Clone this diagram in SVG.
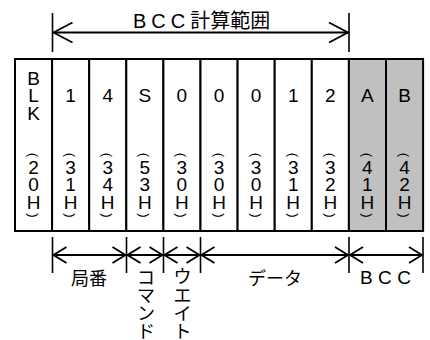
<svg xmlns="http://www.w3.org/2000/svg" width="430" height="340" viewBox="0 0 430 340">
<style>
text{font-family:"Liberation Sans","Noto Sans CJK JP",sans-serif;fill:#000}
.c{font-size:19px;text-anchor:middle}
.p{font-size:13px;text-anchor:middle;dominant-baseline:central}
.lb{font-size:18px;text-anchor:middle}
.cell{stroke:#000;stroke-width:2;fill:#fff}
.g .cell{fill:#c0c0c0}
.ln{stroke:#000;stroke-width:1.8;fill:none}
.tk{stroke:#000;stroke-width:1.6}
</style>
<defs>
<marker id="big" markerUnits="userSpaceOnUse" viewBox="-21 -12 23 24" markerWidth="23" markerHeight="24" refX="0" refY="0" orient="auto-start-reverse">
<path d="M-19,-10 L0,0 L-19,10" fill="none" stroke="#000" stroke-width="1.8"/>
</marker>
<marker id="sm" markerUnits="userSpaceOnUse" viewBox="-16 -10 18 20" markerWidth="18" markerHeight="20" refX="0" refY="0" orient="auto-start-reverse">
<path d="M-13,-8 L0,0 L-13,8" fill="none" stroke="#000" stroke-width="1.8"/>
</marker>
</defs>

<g id="title">
<text x="133" y="27.5" font-size="20"><tspan letter-spacing="5">BCC</tspan><tspan>計算範囲</tspan></text>
</g>

<g id="connectors">
<line class="tk" x1="52.5" y1="13" x2="52.5" y2="52"/>
<line class="tk" x1="349" y1="13" x2="349" y2="52"/>
<line class="ln" x1="53.5" y1="32.5" x2="348" y2="32.5" marker-start="url(#big)" marker-end="url(#big)"/>
<line class="tk" x1="52.5" y1="237" x2="52.5" y2="273"/>
<line class="tk" x1="126.5" y1="237" x2="126.5" y2="273"/>
<line class="tk" x1="163.5" y1="237" x2="163.5" y2="273"/>
<line class="tk" x1="200.5" y1="237" x2="200.5" y2="273"/>
<line class="tk" x1="349" y1="237" x2="349" y2="273"/>
<line class="tk" x1="423" y1="237" x2="423" y2="273"/>
<line class="ln" x1="53.5" y1="255" x2="125.5" y2="255" marker-start="url(#sm)" marker-end="url(#sm)"/>
<line class="ln" x1="127.5" y1="255" x2="162.5" y2="255" marker-start="url(#sm)" marker-end="url(#sm)"/>
<line class="ln" x1="164.5" y1="255" x2="199.5" y2="255" marker-start="url(#sm)" marker-end="url(#sm)"/>
<line class="ln" x1="201.5" y1="255" x2="348" y2="255" marker-start="url(#sm)" marker-end="url(#sm)"/>
<line class="ln" x1="350" y1="255" x2="422" y2="255" marker-start="url(#sm)" marker-end="url(#sm)"/>
</g>

<g id="cell-blk">
<rect class="cell" x="15" y="59" width="37.1" height="172"/>
<text class="c"><tspan x="33.5" y="84.5">B</tspan><tspan x="33.5" y="102">L</tspan><tspan x="33.5" y="120">K</tspan></text>
<text class="p" transform="translate(33.5,155) rotate(90)">(</text>
<text class="c"><tspan x="33.5" y="174">2</tspan><tspan x="33.5" y="191">0</tspan><tspan x="33.5" y="209">H</tspan></text>
<text class="p" transform="translate(33.5,215.5) rotate(90)">)</text>
</g>

<g id="cell-1a">
<rect class="cell" x="52.1" y="59" width="37.1" height="172"/>
<text class="c" x="70.6" y="102">1</text>
<text class="p" transform="translate(70.6,155) rotate(90)">(</text>
<text class="c"><tspan x="70.6" y="174">3</tspan><tspan x="70.6" y="191">1</tspan><tspan x="70.6" y="209">H</tspan></text>
<text class="p" transform="translate(70.6,215.5) rotate(90)">)</text>
</g>

<g id="cell-4">
<rect class="cell" x="89.2" y="59" width="37.1" height="172"/>
<text class="c" x="107.7" y="102">4</text>
<text class="p" transform="translate(107.7,155) rotate(90)">(</text>
<text class="c"><tspan x="107.7" y="174">3</tspan><tspan x="107.7" y="191">4</tspan><tspan x="107.7" y="209">H</tspan></text>
<text class="p" transform="translate(107.7,215.5) rotate(90)">)</text>
</g>

<g id="cell-s">
<rect class="cell" x="126.3" y="59" width="37.1" height="172"/>
<text class="c" x="144.8" y="102">S</text>
<text class="p" transform="translate(144.8,155) rotate(90)">(</text>
<text class="c"><tspan x="144.8" y="174">5</tspan><tspan x="144.8" y="191">3</tspan><tspan x="144.8" y="209">H</tspan></text>
<text class="p" transform="translate(144.8,215.5) rotate(90)">)</text>
</g>

<g id="cell-0a">
<rect class="cell" x="163.4" y="59" width="37.1" height="172"/>
<text class="c" x="181.9" y="102">0</text>
<text class="p" transform="translate(181.9,155) rotate(90)">(</text>
<text class="c"><tspan x="181.9" y="174">3</tspan><tspan x="181.9" y="191">0</tspan><tspan x="181.9" y="209">H</tspan></text>
<text class="p" transform="translate(181.9,215.5) rotate(90)">)</text>
</g>

<g id="cell-0b">
<rect class="cell" x="200.5" y="59" width="37.1" height="172"/>
<text class="c" x="219" y="102">0</text>
<text class="p" transform="translate(219,155) rotate(90)">(</text>
<text class="c"><tspan x="219" y="174">3</tspan><tspan x="219" y="191">0</tspan><tspan x="219" y="209">H</tspan></text>
<text class="p" transform="translate(219,215.5) rotate(90)">)</text>
</g>

<g id="cell-0c">
<rect class="cell" x="237.6" y="59" width="37.1" height="172"/>
<text class="c" x="256.1" y="102">0</text>
<text class="p" transform="translate(256.1,155) rotate(90)">(</text>
<text class="c"><tspan x="256.1" y="174">3</tspan><tspan x="256.1" y="191">0</tspan><tspan x="256.1" y="209">H</tspan></text>
<text class="p" transform="translate(256.1,215.5) rotate(90)">)</text>
</g>

<g id="cell-1b">
<rect class="cell" x="274.7" y="59" width="37.1" height="172"/>
<text class="c" x="293.2" y="102">1</text>
<text class="p" transform="translate(293.2,155) rotate(90)">(</text>
<text class="c"><tspan x="293.2" y="174">3</tspan><tspan x="293.2" y="191">1</tspan><tspan x="293.2" y="209">H</tspan></text>
<text class="p" transform="translate(293.2,215.5) rotate(90)">)</text>
</g>

<g id="cell-2">
<rect class="cell" x="311.8" y="59" width="37.1" height="172"/>
<text class="c" x="330.3" y="102">2</text>
<text class="p" transform="translate(330.3,155) rotate(90)">(</text>
<text class="c"><tspan x="330.3" y="174">3</tspan><tspan x="330.3" y="191">2</tspan><tspan x="330.3" y="209">H</tspan></text>
<text class="p" transform="translate(330.3,215.5) rotate(90)">)</text>
</g>

<g id="cell-a" class="g">
<rect class="cell" x="348.9" y="59" width="37.1" height="172"/>
<text class="c" x="367.4" y="102">A</text>
<text class="p" transform="translate(367.4,155) rotate(90)">(</text>
<text class="c"><tspan x="367.4" y="174">4</tspan><tspan x="367.4" y="191">1</tspan><tspan x="367.4" y="209">H</tspan></text>
<text class="p" transform="translate(367.4,215.5) rotate(90)">)</text>
</g>

<g id="cell-b" class="g">
<rect class="cell" x="386" y="59" width="37.1" height="172"/>
<text class="c" x="404.5" y="102">B</text>
<text class="p" transform="translate(404.5,155) rotate(90)">(</text>
<text class="c"><tspan x="404.5" y="174">4</tspan><tspan x="404.5" y="191">2</tspan><tspan x="404.5" y="209">H</tspan></text>
<text class="p" transform="translate(404.5,215.5) rotate(90)">)</text>
</g>

<g id="label-kyokuban"><text class="lb" x="89" y="285">局番</text></g>
<g id="label-command"><text class="lb"><tspan x="146" y="283.5">コ</tspan><tspan x="146" y="301.5">マ</tspan><tspan x="146" y="319.5">ン</tspan><tspan x="146" y="337.5">ド</tspan></text></g>
<g id="label-wait"><text class="lb"><tspan x="182.5" y="283">ウ</tspan><tspan x="182.5" y="301.5">エ</tspan><tspan x="182.5" y="319.5">イ</tspan><tspan x="182.5" y="337.5">ト</tspan></text></g>
<g id="label-data"><text class="lb" x="275" y="285">データ</text></g>
<g id="label-bcc"><text x="360" y="284" font-size="19" textLength="51" lengthAdjust="spacing">BCC</text></g>
</svg>
